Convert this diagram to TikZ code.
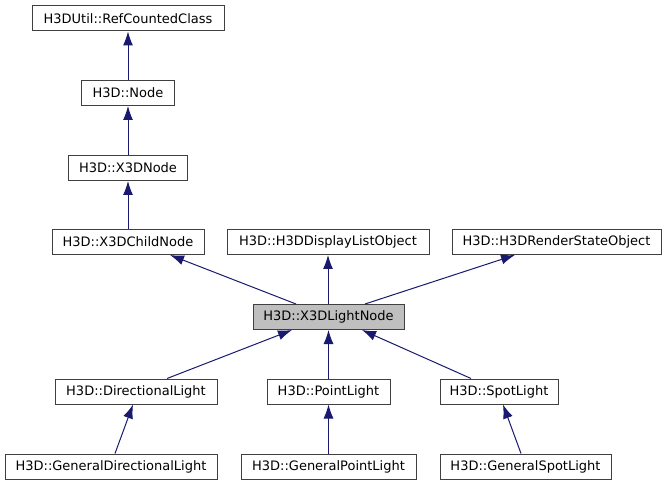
\documentclass[tikz,border=0pt]{standalone}
\usepackage{fontspec}
\setmainfont{DejaVu Sans}
\usetikzlibrary{arrows.meta}
\definecolor{edgeblue}{RGB}{25,25,112}
\definecolor{boxline}{RGB}{64,64,64}
\definecolor{hilite}{RGB}{191,191,191}
\tikzset{
  cls/.style={draw=boxline, line width=1pt, fill=white, inner sep=0pt, minimum height=25pt,
    font=\fontsize{13}{15}\selectfont},
  focus/.style={cls, fill=hilite},
  inh/.style={draw=edgeblue, line width=1pt, -{Latex[length=14pt,width=10pt]}}
}
\begin{document}
\begin{tikzpicture}[x=1pt,y=1pt]
\useasboundingbox (0,0) rectangle (666,485);
\node[cls, minimum width=192] (rc) at (128,466.5) {H3DUtil::RefCountedClass};
\node[cls, minimum width=93] (nd) at (128,392) {H3D::Node};
\node[cls, minimum width=119] (x3d) at (128,317) {H3D::X3DNode};
\node[cls, minimum width=152] (child) at (128,243) {H3D::X3DChildNode};
\node[cls, minimum width=202] (disp) at (328,243) {H3D::H3DDisplayListObject};
\node[cls, minimum width=209] (rend) at (556.5,243) {H3D::H3DRenderStateObject};
\node[focus, minimum width=151] (light) at (328.5,168) {H3D::X3DLightNode};
\node[cls, minimum width=162] (dir) at (136,93.5) {H3D::DirectionalLight};
\node[cls, minimum width=123] (pt) at (328.5,93.5) {H3D::PointLight};
\node[cls, minimum width=118] (spot) at (499,93.5) {H3D::SpotLight};
\node[cls, minimum width=212] (gdir) at (111,18.5) {H3D::GeneralDirectionalLight};
\node[cls, minimum width=175] (gpt) at (328.5,18.5) {H3D::GeneralPointLight};
\node[cls, minimum width=171] (gspot) at (525.5,18.5) {H3D::GeneralSpotLight};

\draw[inh] (nd.north) -- (rc.south);
\draw[inh] (x3d.north) -- (nd.south);
\draw[inh] (child.north) -- (x3d.south);
\draw[inh] ([xshift=-32.5pt]light.north) -- ([xshift=42pt]child.south);
\draw[inh] ([xshift=-0.5pt]light.north) -- (disp.south);
\draw[inh] ([xshift=36.5pt]light.north) -- ([xshift=-41.5pt]rend.south);
\draw[inh] ([xshift=31pt]dir.north) -- ([xshift=-36.5pt]light.south);
\draw[inh] (pt.north) -- (light.south);
\draw[inh] ([xshift=-28pt]spot.north) -- ([xshift=33.5pt]light.south);
\draw[inh] ([xshift=4pt]gdir.north) -- ([xshift=-3pt]dir.south);
\draw[inh] (gpt.north) -- (pt.south);
\draw[inh] ([xshift=-4.5pt]gspot.north) -- ([xshift=4pt]spot.south);
\end{tikzpicture}
\end{document}
